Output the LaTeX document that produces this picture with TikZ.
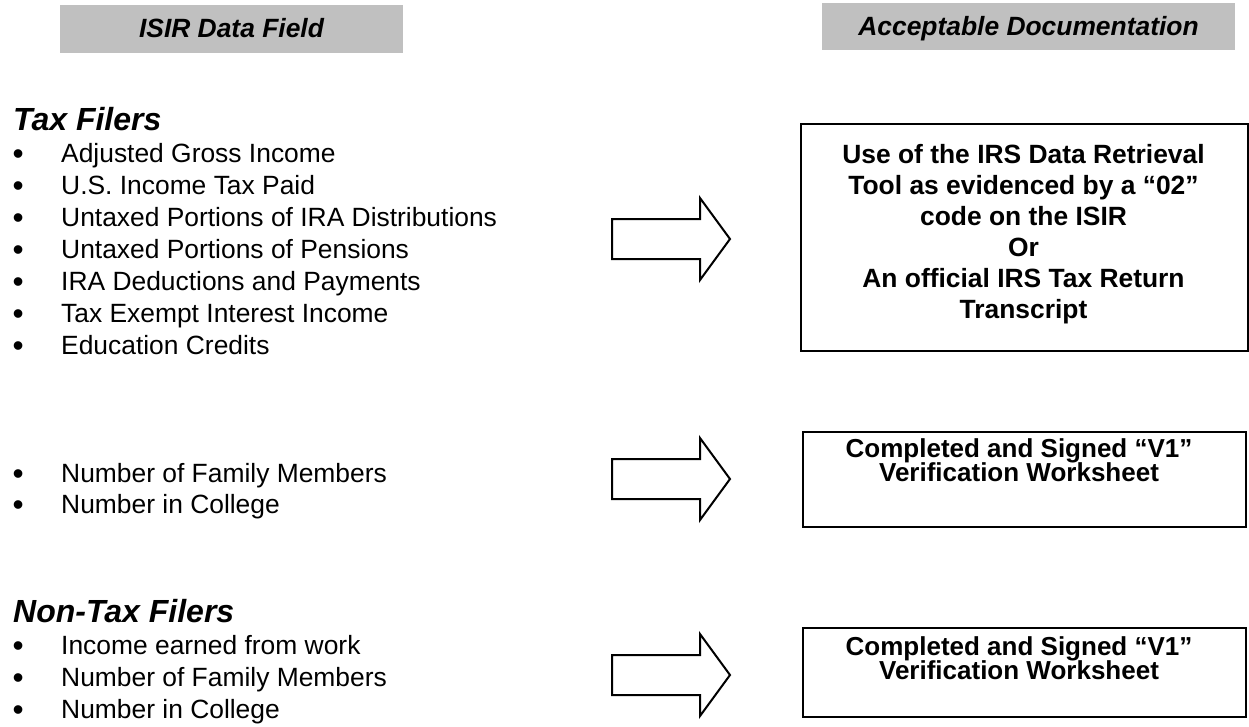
\documentclass[tikz,border=0pt]{standalone}
\usepackage{fontspec}
\setmainfont{Liberation Sans}
\usepackage{xcolor}
\usepackage{tikz}
\usetikzlibrary{calc}

\definecolor{hdrgray}{RGB}{192,192,192}

\begin{document}
\begin{tikzpicture}[x=1pt, y=-1pt,
	hdr/.style={fill=hdrgray, inner sep=0, text height=19.3pt, text depth=2pt,
		font=\fontsize{26.4}{31}\selectfont\bfseries\itshape},
	grp/.style={anchor=base west, inner sep=0, font=\fontsize{32}{38}\selectfont\bfseries\itshape},
	item/.style={anchor=base west, inner sep=0, font=\fontsize{26.4}{32}\selectfont,
		execute at begin node={\llap{\raisebox{-2pt}{\scalebox{1.2}{\textbullet}}\hspace{37.5pt}}}},
	docbox/.style={draw, line width=2.2pt, inner sep=0},
	doctext/.style={anchor=north, inner sep=0, align=center, font=\fontsize{26.4}{31}\selectfont\bfseries},
	wstext/.style={doctext, font={\fontsize{26}{24}\selectfont\bfseries\lineskiplimit=-30pt}},
	blockarrow/.style={draw, line width=2pt, line join=miter}]
\useasboundingbox (0,0) rectangle (1249,726);
%\draw[help lines] (0,0) grid[step=50] (1249,726);

% column heads
\node[hdr, minimum width=343, minimum height=48] (hdrl) at (231.5,29) {ISIR Data Field};
\node[hdr, minimum width=413, minimum height=47] (hdrr) at (1028.5,26.5) {Acceptable Documentation};

% left column
\node[grp] (taxf) at (13,130) {Tax Filers};
\foreach \txt [count=\i] in {Adjusted Gross Income, U.S. Income Tax Paid,
	Untaxed Portions of IRA Distributions, Untaxed Portions of Pensions,
	IRA Deductions and Payments, Tax Exempt Interest Income, Education Credits}
	\node[item] (taxf-\i) at (61,{130+32*\i}) {\txt};
\foreach \txt [count=\i] in {Number of Family Members, Number in College}
	\node[item] (fam-\i) at (61,{451+31*\i}) {\txt};
\node[grp] (ntaxf) at (13,622) {Non-Tax Filers};
\foreach \txt [count=\i] in {Income earned from work, Number of Family Members, Number in College}
	\node[item] (ntaxf-\i) at (61,{622+32*\i}) {\txt};

% right column
\node[docbox, minimum width=447, minimum height=227, anchor=north west] (tool) at (800,123) {};
\node[doctext] (tooltxt) at (1023.5,144) {Use of the IRS Data Retrieval\\Tool as evidenced by a “02”\\code on the ISIR\\Or\\An official IRS Tax Return\\Transcript};
\node[docbox, minimum width=443, minimum height=95, anchor=north west] (wsa) at (802,431) {};
\node[wstext] (wsatxt) at (1019,438.5) {Completed and Signed “V1”\\Verification Worksheet};
\node[docbox, minimum width=443, minimum height=89, anchor=north west] (wsb) at (802,627) {};
\node[wstext] (wsbtxt) at (1019,636.5) {Completed and Signed “V1”\\Verification Worksheet};

% arrows
\foreach \y in {239,479,675}
	\draw[blockarrow] (612,{\y-20}) -- (700,{\y-20}) -- (700,{\y-41}) -- (730,\y)
		-- (700,{\y+41}) -- (700,{\y+20}) -- (612,{\y+20}) -- cycle;
\end{tikzpicture}
\end{document}
